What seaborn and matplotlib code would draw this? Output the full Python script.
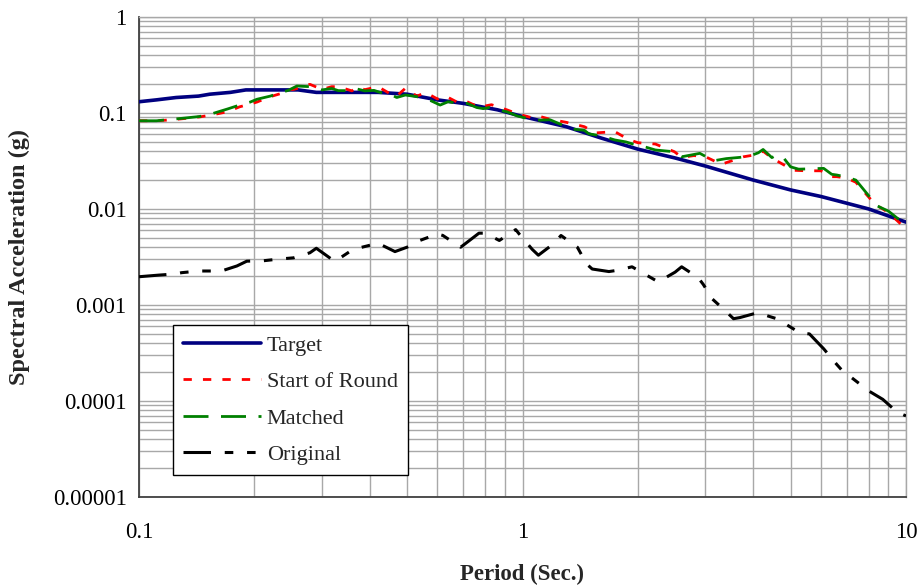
import numpy as np
import pandas as pd
import matplotlib
matplotlib.use("Agg")
import matplotlib.pyplot as plt
from matplotlib.ticker import FixedLocator, LogLocator, NullFormatter
import seaborn as sns

# Response spectra: period (s) vs spectral acceleration (g)
target_T = [0.100, 0.111, 0.125, 0.143, 0.153, 0.173, 0.190, 0.220, 0.260, 0.290,
            0.350, 0.420, 0.500, 0.600, 0.700, 0.860, 1.00, 1.30, 1.60, 2.00,
            2.50, 3.00, 4.00, 5.00, 6.00, 7.00, 8.00, 10.0]
target_Sa = [0.131, 0.137, 0.145, 0.150, 0.157, 0.164, 0.174, 0.174, 0.174, 0.164,
             0.164, 0.164, 0.157, 0.137, 0.126, 0.108, 0.092, 0.072, 0.055, 0.042,
             0.034, 0.028, 0.020, 0.0158, 0.0135, 0.0115, 0.0100, 0.0073]

start_T = [0.100, 0.111, 0.122, 0.133, 0.144, 0.156, 0.170, 0.183, 0.195, 0.203,
           0.220, 0.235, 0.243, 0.253, 0.265, 0.279, 0.300, 0.318, 0.331, 0.359,
           0.370, 0.388, 0.420, 0.450, 0.470, 0.495, 0.530, 0.560, 0.600, 0.630,
           0.680, 0.717, 0.770, 0.830, 0.910, 0.970, 1.050, 1.100, 1.180, 1.300,
           1.450, 1.550, 1.740, 1.890, 2.000, 2.220, 2.490, 2.600, 2.800, 3.000,
           3.300, 3.770, 4.100, 4.240, 4.470, 4.900, 5.100, 5.500, 6.000, 6.400,
           6.600, 7.000, 7.400, 7.700, 8.300, 9.000, 10.00]
start_Sa = [0.083, 0.083, 0.085, 0.088, 0.091, 0.096, 0.103, 0.116, 0.124, 0.130,
            0.148, 0.160, 0.174, 0.176, 0.185, 0.199, 0.176, 0.188, 0.188, 0.170,
            0.186, 0.175, 0.188, 0.160, 0.150, 0.181, 0.150, 0.163, 0.140, 0.150,
            0.128, 0.131, 0.115, 0.122, 0.108, 0.098, 0.090, 0.093, 0.086, 0.080,
            0.072, 0.062, 0.064, 0.053, 0.049, 0.0475, 0.0395, 0.0345, 0.036, 0.035,
            0.0292, 0.035, 0.037, 0.040, 0.0340, 0.0275, 0.0253, 0.025, 0.025, 0.0217,
            0.0217, 0.021, 0.019, 0.0158, 0.0112, 0.0092, 0.0062]

matched_T = [0.100, 0.111, 0.122, 0.133, 0.144, 0.156, 0.170, 0.183, 0.195, 0.203,
             0.220, 0.235, 0.245, 0.258, 0.280, 0.300, 0.318, 0.331, 0.359, 0.370,
             0.388, 0.410, 0.425, 0.450, 0.470, 0.495, 0.530, 0.550, 0.575, 0.610,
             0.640, 0.680, 0.717, 0.760, 0.790, 0.820, 0.870, 0.910, 0.970, 1.050,
             1.090, 1.180, 1.260, 1.350, 1.450, 1.490, 1.600, 1.740, 1.860, 1.940,
             2.100, 2.220, 2.400, 2.490, 2.600, 2.750, 2.900, 3.150, 3.400, 3.690,
             3.900, 4.120, 4.240, 4.470, 4.560, 4.750, 5.000, 5.250, 5.600, 6.100,
             6.400, 6.600, 7.000, 7.400, 7.700, 8.400, 9.000, 10.00]
matched_Sa = [0.083, 0.083, 0.086, 0.089, 0.092, 0.099, 0.110, 0.121, 0.130, 0.139,
              0.150, 0.164, 0.172, 0.191, 0.188, 0.174, 0.180, 0.171, 0.171, 0.178,
              0.170, 0.172, 0.164, 0.158, 0.145, 0.154, 0.148, 0.142, 0.135, 0.121,
              0.131, 0.126, 0.126, 0.114, 0.111, 0.114, 0.107, 0.103, 0.093, 0.086,
              0.084, 0.085, 0.076, 0.068, 0.066, 0.0606, 0.058, 0.0524, 0.050, 0.0475,
              0.044, 0.0412, 0.040, 0.0395, 0.035, 0.0365, 0.038, 0.0318, 0.0335, 0.0345,
              0.0355, 0.0385, 0.0417, 0.0343, 0.0358, 0.0358, 0.0275, 0.026, 0.0262, 0.0265,
              0.023, 0.0226, 0.0215, 0.020, 0.0165, 0.0108, 0.0095, 0.0068]

original_T = [0.100, 0.113, 0.125, 0.129, 0.143, 0.164, 0.180, 0.191, 0.211, 0.230,
              0.253, 0.279, 0.290, 0.324, 0.358, 0.372, 0.420, 0.465, 0.500, 0.540,
              0.600, 0.620, 0.690, 0.770, 0.800, 0.870, 0.960, 0.980, 1.060, 1.100,
              1.210, 1.260, 1.390, 1.470, 1.520, 1.680, 1.770, 1.930, 2.260, 2.500,
              2.600, 2.870, 2.960, 3.130, 3.400, 3.550, 3.690, 4.100, 4.600, 4.800,
              5.300, 5.600, 6.100, 6.600, 6.800, 7.600, 7.900, 8.700, 9.500, 10.00]
original_Sa = [0.00197, 0.00205, 0.00211, 0.00217, 0.00226, 0.00226, 0.00255, 0.00286, 0.00289, 0.0030,
               0.0031, 0.0035, 0.0039, 0.00284, 0.0037, 0.0039, 0.0044, 0.0036, 0.0040, 0.0047,
               0.0055, 0.0053, 0.0040, 0.0056, 0.0056, 0.0047, 0.0061, 0.0055, 0.0038, 0.0033,
               0.0044, 0.0053, 0.0040, 0.00267, 0.00237, 0.00223, 0.0023, 0.0025, 0.00174, 0.0022,
               0.0025, 0.00193, 0.00164, 0.00115, 0.00085, 0.00072, 0.00074, 0.00083, 0.00072, 0.00065,
               0.00051, 0.00050, 0.00035, 0.00024, 0.00021, 0.000149, 0.000131, 0.000104, 0.000076, 0.000070]

x_ticks = [0.1, 1, 10]
x_tick_labels = ["0.1", "1", "10"]
y_ticks = [1e-5, 1e-4, 1e-3, 1e-2, 1e-1, 1]
y_tick_labels = ["0.00001", "0.0001", "0.001", "0.01", "0.1", "1"]

sns.set_theme(style="white")
plt.rcParams["font.family"] = ["Liberation Serif", "DejaVu Serif"]

W, H = 918, 587
fig = plt.figure(figsize=(W / 100, H / 100), dpi=100)
ax = fig.add_axes([139 / W, 1 - 497 / H, (906 - 139) / W, (497 - 17) / H])

series = [
    ("Target", target_T, target_Sa, "#000080", 2.6, "-"),
    ("Start of Round", start_T, start_Sa, "#ff0000", 2.0, (0, (3, 4))),
    ("Matched", matched_T, matched_Sa, "#008000", 2.0, (0, (9, 4.5))),
    ("Original", original_T, original_Sa, "#000000", 2.2, (0, (9, 4.5, 2.8, 4.5, 2.8, 4.5))),
]
for name, T, Sa, color, lw, ls in series:
    df = pd.DataFrame({"Period": T, "Sa": Sa})
    sns.lineplot(data=df, x="Period", y="Sa", ax=ax, color=color, linewidth=lw,
                 linestyle=ls, label=name, sort=False, estimator=None, zorder=3)

ax.set_xscale("log")
ax.set_yscale("log")
ax.set_xlim(0.1, 10)
ax.set_ylim(1e-5, 1)

ax.xaxis.set_major_locator(FixedLocator(x_ticks))
ax.set_xticklabels(x_tick_labels)
ax.yaxis.set_major_locator(FixedLocator(y_ticks))
ax.set_yticklabels(y_tick_labels)
ax.xaxis.set_minor_locator(LogLocator(base=10, subs=np.arange(2, 10), numticks=100))
ax.yaxis.set_minor_locator(LogLocator(base=10, subs=np.arange(2, 10), numticks=100))
ax.xaxis.set_minor_formatter(NullFormatter())
ax.yaxis.set_minor_formatter(NullFormatter())

ax.grid(True, which="both", color="#a8a8a8", linewidth=1.0, zorder=0)
ax.set_axisbelow(True)

ax.tick_params(which="major", direction="out", length=5, width=1, color="#404040",
               labelsize=16.5, labelcolor="black")
ax.tick_params(axis="y", which="major", pad=4)
ax.tick_params(axis="x", which="major", pad=13)
ax.tick_params(which="minor", length=0)

for side in ("left", "bottom"):
    ax.spines[side].set_color("#404040")
    ax.spines[side].set_linewidth(1.3)
for side in ("top", "right"):
    ax.spines[side].set_color("#a8a8a8")
    ax.spines[side].set_linewidth(1.0)

ax.set_xlabel("Period (Sec.)", fontsize=16.5, fontweight="bold")
ax.set_ylabel("Spectral Acceleration (g)", fontsize=17.5, fontweight="bold")
ax.xaxis.set_label_coords(0.5, -0.14)
ax.yaxis.set_label_coords(-0.142, 0.5)

leg = ax.legend(loc="upper left", bbox_to_anchor=(173 / W, 1 - 325 / H),
                bbox_transform=fig.transFigure, fontsize=16, frameon=True,
                fancybox=False, edgecolor="black", framealpha=1.0,
                handlelength=3.5, handletextpad=0.27, labelspacing=0.72,
                borderpad=0.45, borderaxespad=0)
leg.get_frame().set_linewidth(1.0)

fig.savefig("out.png", dpi=100)
